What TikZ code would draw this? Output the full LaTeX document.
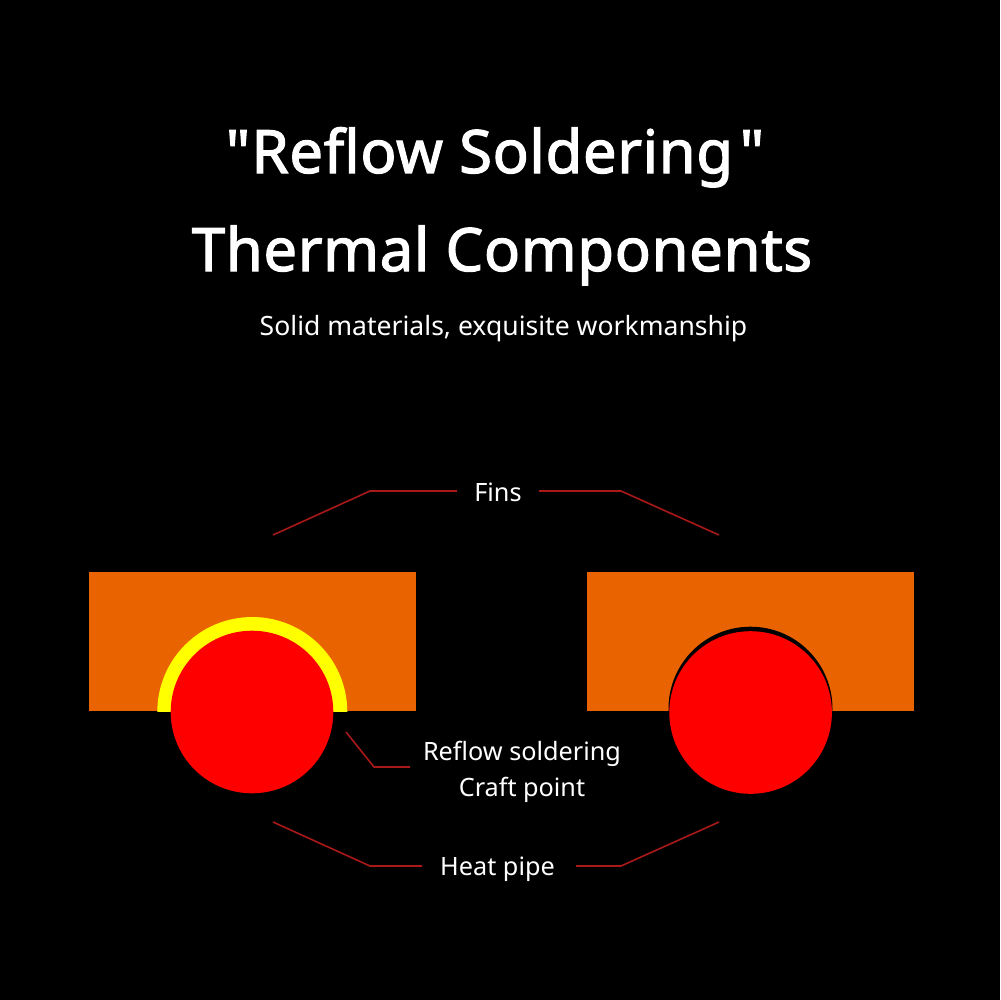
\documentclass[tikz,border=0pt]{standalone}
\usepackage{fontspec}
\setmainfont{Noto Sans}
\newfontfamily\ttlfont[FakeBold=2,LetterSpace=1.1]{Noto Sans}
\definecolor{fin}{RGB}{233,100,0}
\definecolor{leader}{RGB}{170,25,25}
\definecolor{solder}{RGB}{255,255,0}
\tikzset{
 lead/.style={draw=leader,line width=1.2pt},
 lab/.style={text=white,font=\fontsize{19}{22}\selectfont,inner sep=0pt,anchor=base},
 ttl/.style={text=white,font=\ttlfont\fontsize{45}{52}\selectfont,inner sep=0pt,anchor=base}
}
\begin{document}
\begin{tikzpicture}[x=0.0264583cm,y=-0.0264583cm]
\useasboundingbox (0,0) rectangle (1000,1000);
\fill[black] (0,0) rectangle (1000,1000);
\node[ttl] (t1) at (495,173) {\char34\kern1pt Reflow Soldering\kern5pt\char34};
\node[ttl] (t2) at (502,271) {Thermal Components};
\node[text=white,font=\fontsize{20}{23}\selectfont,inner sep=0pt,anchor=base] (t3) at (503.5,335) {Solid materials, exquisite workmanship};
\fill[fin] (89,572) rectangle (416,711);
\fill[fin] (587,572) rectangle (914,711);
\begin{scope}
\clip (89,572) rectangle (416,711);
\fill[solder] (252.3,712) circle (95);
\end{scope}
\begin{scope}
\clip (587,572) rectangle (914,711);
\fill[black] (750.5,708.7) circle (82);
\end{scope}
\fill[red] (252,712) circle (81.3);
\fill[red] (750.6,712.5) circle (81.3);
\node[lab] (fins) at (498,501) {Fins};
\node[lab] (rs) at (522,760) {Reflow soldering};
\node[lab] (cp) at (522,796) {Craft point};
\node[lab] (hp) at (497.5,875) {Heat pipe};
\coordinate (f1) at (273,535); \coordinate (f2) at (370,491); \coordinate (f3) at (457,491);
\coordinate (f4) at (719,535); \coordinate (f5) at (621,491); \coordinate (f6) at (539,491);
\coordinate (h1) at (273,822); \coordinate (h2) at (370,866); \coordinate (h3) at (422,866);
\coordinate (h4) at (719,822); \coordinate (h5) at (621,866); \coordinate (h6) at (576,866);
\coordinate (r1) at (346,732); \coordinate (r2) at (374,767); \coordinate (r3) at (410,767);
\draw[lead] (f1)--(f2)--(f3);
\draw[lead] (f4)--(f5)--(f6);
\draw[lead] (h1)--(h2)--(h3);
\draw[lead] (h4)--(h5)--(h6);
\draw[lead] (r1)--(r2)--(r3);
\end{tikzpicture}
\end{document}
